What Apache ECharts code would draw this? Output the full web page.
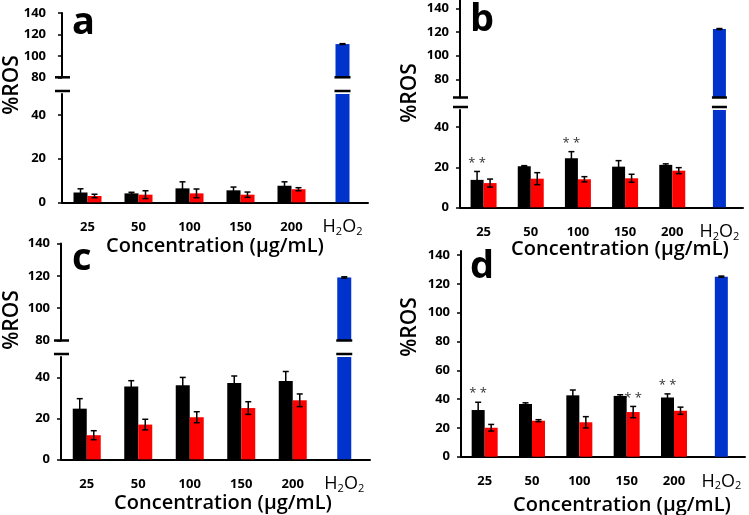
<!DOCTYPE html>
<html>
<head>
<meta charset="utf-8">
<script src="https://cdn.jsdelivr.net/npm/echarts@6/dist/echarts.min.js"></script>
<style>
  html, body { margin: 0; padding: 0; background: #fff; }
  #chart { width: 749px; height: 515px; }
</style>
</head>
<body>
<div id="chart"></div>
<script>
var categories = ['25', '50', '100', '150', '200', 'H2O2'];

// panel a
var blackA = [4.5, 4.1, 6.4, 5.5, 7.6];
var blackErrA = [1.7, 0.5, 3.0, 1.5, 1.8];
var redA = [2.9, 3.5, 4.1, 3.5, 6.0];
var redErrA = [0.8, 1.8, 2.0, 1.2, 0.7];
var h2o2A = 111;
var h2o2ErrA = 0.4;
var starBlackA = [0, 0, 0, 0, 0];
var starRedA = [0, 0, 0, 0, 0];

// panel b
var blackB = [13.7, 20.5, 24.5, 20.3, 21.2];
var blackErrB = [4.2, 0.3, 3.3, 3.0, 0.5];
var redB = [12.1, 14.3, 14.0, 14.5, 18.3];
var redErrB = [2.0, 3.0, 1.3, 2.0, 1.5];
var h2o2B = 122.5;
var h2o2ErrB = 0.4;
var starBlackB = [1, 0, 1, 0, 0];
var starRedB = [0, 0, 0, 0, 0];

// panel c
var blackC = [24.8, 35.6, 36.3, 37.4, 38.4];
var blackErrC = [4.9, 2.9, 3.8, 3.4, 4.6];
var redC = [11.8, 17.0, 20.6, 25.1, 28.9];
var redErrC = [2.2, 2.6, 2.7, 3.1, 3.1];
var h2o2C = 119;
var h2o2ErrC = 0.4;
var starBlackC = [0, 0, 0, 0, 0];
var starRedC = [0, 0, 0, 0, 0];

// panel d
var blackD = [32.4, 36.6, 42.6, 42.2, 41.1];
var blackErrD = [5.4, 0.8, 3.7, 0.8, 2.5];
var redD = [20.1, 25.0, 23.9, 31.0, 31.9];
var redErrD = [2.3, 0.7, 3.9, 3.9, 2.5];
var h2o2D = 125;
var h2o2ErrD = 0.4;
var starBlackD = [1, 0, 0, 0, 1];
var starRedD = [0, 0, 0, 1, 0];

var hiTicks = [80, 100, 120, 140];
var loTicks = [0, 20, 40];
var fullTicks = [0, 20, 40, 60, 80, 100, 120, 140];

var FONT = 'Open Sans';
var BLACK = '#000000', RED = '#ff0000', BLUE = '#0033cc';

var grids = [], xAxes = [], yAxes = [], series = [], graphics = [];

function labelFmt(v) {
  if (v === 'H2O2') return '{h|H}{s|2}{h|O}{s|2}';
  return '{n|' + v + '}';
}

function mainX(gi) {
  return {
    type: 'category', gridIndex: gi, data: categories,
    axisLine: { onZero: false, lineStyle: { color: BLACK, width: 2 } },
    axisTick: { alignWithLabel: true, length: 4, lineStyle: { color: BLACK, width: 1.5 } },
    axisLabel: {
      margin: 15, formatter: labelFmt, interval: 0,
      rich: {
        n: { fontFamily: FONT, fontWeight: 'bold', fontSize: 13, color: BLACK, lineHeight: 20 },
        h: { fontFamily: FONT, fontSize: 18, color: BLACK, lineHeight: 20 },
        s: { fontFamily: FONT, fontSize: 11, color: BLACK, lineHeight: 8, verticalAlign: 'bottom' }
      }
    }
  };
}

function hiddenX(gi) {
  return { type: 'category', gridIndex: gi, data: categories, show: false };
}

function valueY(gi, min, max, ticks, margin) {
  return {
    type: 'value', gridIndex: gi, min: min, max: max,
    axisLine: { show: true, onZero: false, lineStyle: { color: BLACK, width: 2 } },
    axisTick: { show: true, length: 4, customValues: ticks, lineStyle: { color: BLACK, width: 1.5 } },
    axisLabel: { customValues: ticks, margin: margin, color: BLACK, fontFamily: FONT, fontWeight: 'bold', fontSize: 13 },
    splitLine: { show: false }
  };
}

function barSeries(xi, yi, data, color, w) {
  return {
    type: 'bar', xAxisIndex: xi, yAxisIndex: yi, data: data,
    barWidth: w, barGap: 0, itemStyle: { color: color }, silent: true
  };
}

// error bars (and the ** marks) drawn through the axes of the series
function errSeries(xi, yi, cats, vals, errs, stars, offset) {
  return {
    type: 'custom', xAxisIndex: xi, yAxisIndex: yi, z: 5, clip: false, silent: true,
    data: vals.map(function (v, i) { return [cats[i], v, errs[i], stars[i]]; }),
    renderItem: function (params, api) {
      var idx = api.value(0), v = api.value(1), e = api.value(2);
      var top = api.coord([idx, v + e]);
      var bot = api.coord([idx, v - e]);
      var cx = top[0] + offset;
      var st = { stroke: BLACK, lineWidth: 1.5 };
      var kids = [
        { type: 'line', shape: { x1: cx, y1: top[1], x2: cx, y2: bot[1] }, style: st },
        { type: 'line', shape: { x1: cx - 3, y1: top[1], x2: cx + 3, y2: top[1] }, style: st },
        { type: 'line', shape: { x1: cx - 3, y1: bot[1], x2: cx + 3, y2: bot[1] }, style: st }
      ];
      if (api.value(3)) {
        kids.push({
          type: 'text', x: cx, y: top[1] - 2,
          style: { text: '* *', fontFamily: FONT, fontSize: 13, fill: '#333', align: 'center', verticalAlign: 'bottom' }
        });
      }
      return { type: 'group', children: kids };
    }
  };
}

// axis break marks: across the y axis and across the H2O2 bar
function breakSeries(xi, yi, atValue, barW, dy) {
  return {
    type: 'custom', xAxisIndex: xi, yAxisIndex: yi, z: 10, clip: false, silent: true,
    data: [['H2O2', atValue]],
    renderItem: function (params, api) {
      var p = api.coord([api.value(0), api.value(1)]);
      var ax = params.coordSys.x;
      var y = p[1] + dy;
      var st = { stroke: BLACK, lineWidth: 2.5 };
      return {
        type: 'group', children: [
          { type: 'line', shape: { x1: ax - 7, y1: y, x2: ax + 8, y2: y }, style: st },
          { type: 'line', shape: { x1: p[0] - barW / 2 - 1, y1: y, x2: p[0] + barW / 2 + 1, y2: y }, style: st }
        ]
      };
    }
  };
}

var doseCats = categories.slice(0, 5);

function addPanel(L, d) {
  var loG = grids.length;
  grids.push({ left: L.left, width: L.width, top: L.loTop, height: L.loBottom - L.loTop });
  var xMain = xAxes.length; xAxes.push(mainX(loG));
  var xBlue = xAxes.length; xAxes.push(hiddenX(loG));
  var yLo = yAxes.length; yAxes.push(valueY(loG, 0, L.loMax, L.loTicks, L.labelMargin));

  series.push(barSeries(xMain, yLo, d.black, BLACK, L.barW));
  series.push(barSeries(xMain, yLo, d.red, RED, L.barW));
  series.push(barSeries(xBlue, yLo, [['H2O2', d.h2o2]], BLUE, L.barW));
  series.push(errSeries(xMain, yLo, doseCats, d.black, d.blackErr, d.starBlack, -L.barW / 2));
  series.push(errSeries(xMain, yLo, doseCats, d.red, d.redErr, d.starRed, L.barW / 2));

  if (L.hiTop != null) {
    var hiG = grids.length;
    grids.push({ left: L.left, width: L.width, top: L.hiTop, height: L.hiBottom - L.hiTop });
    var xHi = xAxes.length; xAxes.push(hiddenX(hiG));
    var yHi = yAxes.length; yAxes.push(valueY(hiG, L.hiMin, L.hiMax, hiTicks, L.labelMargin));
    series.push(barSeries(xHi, yHi, [['H2O2', d.h2o2]], BLUE, L.barW));
    series.push(errSeries(xHi, yHi, ['H2O2'], [d.h2o2], [d.h2o2Err], [0], 0));
    series.push(breakSeries(xHi, yHi, L.hiMin, L.barW, 0));
    series.push(breakSeries(xBlue, yLo, L.loMax, L.barW, -3));
  } else {
    series.push(errSeries(xBlue, yLo, ['H2O2'], [d.h2o2], [d.h2o2Err], [0], 0));
  }

  graphics.push({
    type: 'text', x: L.letter[0], y: L.letter[1],
    style: { text: L.name, fontFamily: FONT, fontWeight: 'bold', fontSize: 38, fill: BLACK, align: 'left', verticalAlign: 'middle' }
  });
  graphics.push({
    type: 'text', x: L.ros[0], y: L.ros[1], rotation: Math.PI / 2,
    style: { text: '%ROS', fontFamily: FONT, fontWeight: 600, fontSize: 21, fill: BLACK, align: 'center', verticalAlign: 'middle' }
  });
  graphics.push({
    type: 'text', x: L.conc[0], y: L.conc[1],
    style: { text: 'Concentration (µg/mL)', fontFamily: FONT, fontWeight: 600, fontSize: 20, fill: BLACK, align: 'center', verticalAlign: 'middle' }
  });
}

addPanel(
  { name: 'a', left: 62, width: 306, hiTop: 13, hiBottom: 77.3, hiMin: 80, hiMax: 140,
    loTop: 94, loBottom: 202.3, loMax: 49.7, loTicks: loTicks, barW: 14, labelMargin: 16,
    letter: [72, 23], ros: [12, 85], conc: [215, 246] },
  { black: blackA, blackErr: blackErrA, red: redA, redErr: redErrA, h2o2: h2o2A, h2o2Err: h2o2ErrA,
    starBlack: starBlackA, starRed: starRedA }
);
addPanel(
  { name: 'b', left: 460, width: 283, hiTop: 0.5, hiBottom: 97.5, hiMin: 64.6, hiMax: 146.6,
    loTop: 110, loBottom: 207.3, loMax: 48.6, loTicks: loTicks, barW: 13, labelMargin: 11,
    letter: [470, 20], ros: [410, 93], conc: [620, 249] },
  { black: blackB, blackErr: blackErrB, red: redB, redErr: redErrB, h2o2: h2o2B, h2o2Err: h2o2ErrB,
    starBlack: starBlackB, starRed: starRedB }
);
addPanel(
  { name: 'c', left: 61, width: 309, hiTop: 243.5, hiBottom: 340.5, hiMin: 80, hiMax: 140,
    loTop: 357, loBottom: 459.3, loMax: 50.1, loTicks: loTicks, barW: 14, labelMargin: 11,
    letter: [72, 259], ros: [12, 320], conc: [223, 503] },
  { black: blackC, blackErr: blackErrC, red: redC, redErr: redErrC, h2o2: h2o2C, h2o2Err: h2o2ErrC,
    starBlack: starBlackC, starRed: starRedC }
);
addPanel(
  { name: 'd', left: 461, width: 284, hiTop: null,
    loTop: 251, loBottom: 456.7, loMax: 142.8, loTicks: fullTicks, barW: 13, labelMargin: 11,
    letter: [470, 267], ros: [410, 327], conc: [622, 505] },
  { black: blackD, blackErr: blackErrD, red: redD, redErr: redErrD, h2o2: h2o2D, h2o2Err: h2o2ErrD,
    starBlack: starBlackD, starRed: starRedD }
);

var myChart = echarts.init(document.getElementById('chart'));
myChart.setOption({
  animation: false,
  backgroundColor: '#ffffff',
  grid: grids,
  xAxis: xAxes,
  yAxis: yAxes,
  series: series,
  graphic: graphics
});
</script>
</body>
</html>
